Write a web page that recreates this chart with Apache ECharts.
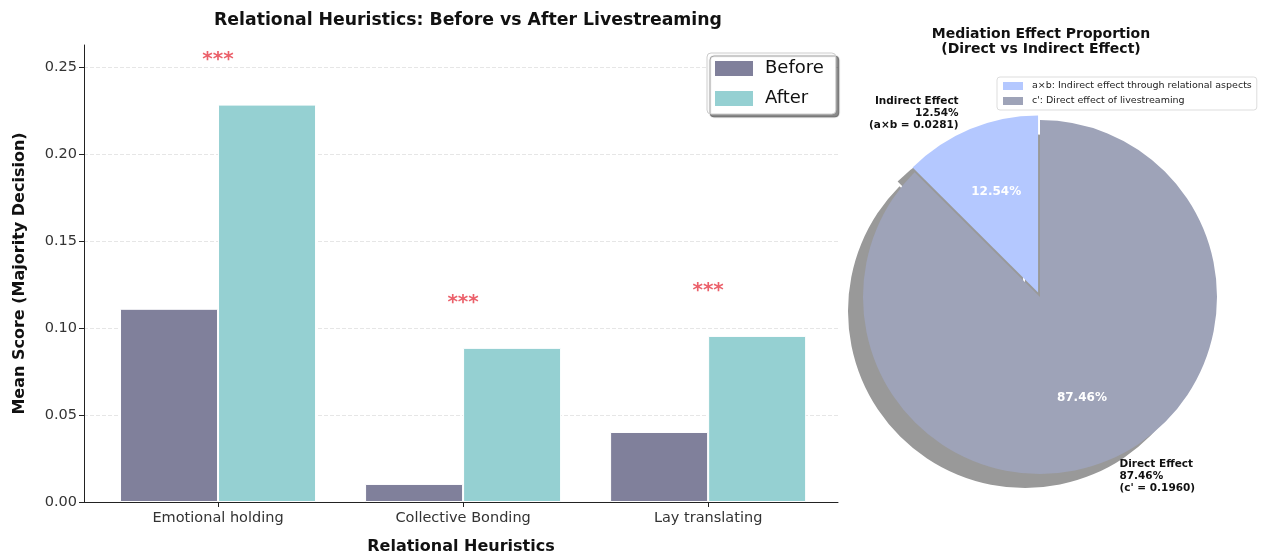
<!DOCTYPE html>
<html><head><meta charset="utf-8">
<script src="https://cdn.jsdelivr.net/npm/echarts@6/dist/echarts.min.js"></script>
<style>html,body{margin:0;padding:0;background:#fff}#c{width:1267px;height:556px}</style>
</head><body><div id="c"></div>
<script>
const categories = ['Emotional holding', 'Collective Bonding', 'Lay translating'];
const beforeValues = [0.1112, 0.0104, 0.0403];
const afterValues = [0.2287, 0.0887, 0.0956];
const significance = ['***', '***', '***'];
const yTicks = [0, 0.05, 0.10, 0.15, 0.20, 0.25];
const pieLegendNames = ['a×b: Indirect effect through relational aspects', "c': Direct effect of livestreaming"];
const pieShortNames = ['Indirect Effect', 'Direct Effect'];
const pieCoefNames = ['a×b', "c'"];
const pieEffects = [0.0281, 0.1960];

const FONT = 'DejaVu Sans';
const GL = 84, GR = 838, GT = 45, GB = 502;
const X_MIN = -0.547, X_MAX = 2.53;
const barW = 0.4 * (GR - GL) / (X_MAX - X_MIN);
const PIE_C = [1040, 297], PIE_R = 177;
const colBefore = '#80809b', colAfter = '#95d0d2';
const pieColors = ['#b4c8ff', '#9ea3b8'];

const chart = echarts.init(document.getElementById('c'), null, {renderer: 'canvas'});

const pieData = (prefix, colors) => pieEffects.map((v, i) => ({
  name: prefix ? prefix + i : pieLegendNames[i],
  value: v,
  selected: i === 0,
  itemStyle: {color: colors[i]}
}));

const option = {
  animation: false,
  backgroundColor: '#fff',
  title: [
    {text: 'Relational Heuristics: Before vs After Livestreaming', left: 463, top: 7, textAlign: 'center',
     textStyle: {fontFamily: FONT, fontSize: 17.3, fontWeight: 'bold', color: '#111'}},
    {text: 'Mediation Effect Proportion\n(Direct vs Indirect Effect)', left: 1036, top: 22, textAlign: 'center',
     textStyle: {fontFamily: FONT, fontSize: 14, fontWeight: 'bold', color: '#111', lineHeight: 15}}
  ],
  legend: [
    {data: ['Before', 'After'], orient: 'vertical', left: 707, top: 53, itemWidth: 40, itemHeight: 17, itemGap: 11,
     icon: 'rect', padding: [6, 12, 6, 6],
     textStyle: {fontFamily: FONT, fontSize: 18, color: '#111', padding: [0, 0, 0, 6]},
     backgroundColor: '#fff', borderColor: '#ccc', borderWidth: 1, borderRadius: 4,
     shadowColor: 'rgba(0,0,0,0.45)', shadowOffsetX: 3, shadowOffsetY: 3, shadowBlur: 1},
    {data: pieLegendNames, orient: 'vertical', left: 997, top: 77, itemWidth: 20, itemHeight: 8, itemGap: 5,
     icon: 'rect', padding: [4, 5, 4, 6],
     textStyle: {fontFamily: FONT, fontSize: 9.5, color: '#222', padding: [0, 0, 0, 4]},
     backgroundColor: '#fff', borderColor: '#ddd', borderWidth: 1, borderRadius: 3}
  ],
  grid: {left: GL, right: 1267 - GR, top: GT, bottom: 556 - GB, containLabel: false, outerBoundsMode: 'none'},
  xAxis: {
    type: 'value', min: X_MIN, max: X_MAX,
    name: 'Relational Heuristics', nameLocation: 'middle', nameGap: 37,
    nameTextStyle: {fontFamily: FONT, fontSize: 16, fontWeight: 'bold', color: '#111'},
    axisLine: {show: true, onZero: false, lineStyle: {color: '#222', width: 1}},
    axisTick: {show: true, length: 5, lineStyle: {color: '#222'}, customValues: [0, 1, 2]},
    axisLabel: {customValues: [0, 1, 2], formatter: v => categories[Math.round(v)] || '',
      fontFamily: FONT, fontSize: 14.5, color: '#333', margin: 9},
    splitLine: {show: false}
  },
  yAxis: {
    type: 'value', min: 0, max: 0.263,
    name: 'Mean Score (Majority Decision)', nameLocation: 'middle', nameGap: 56,
    nameTextStyle: {fontFamily: FONT, fontSize: 16, fontWeight: 'bold', color: '#111'},
    axisLine: {show: true, onZero: false, lineStyle: {color: '#222', width: 1}},
    axisTick: {show: true, length: 5, lineStyle: {color: '#222'}, customValues: yTicks},
    axisLabel: {customValues: yTicks, formatter: v => v.toFixed(2),
      fontFamily: FONT, fontSize: 14.5, color: '#333', margin: 7},
    splitLine: {show: true, lineStyle: {color: '#e6e6e6', type: 'dashed', width: 1}}
  },
  series: [
    {type: 'bar', name: 'Before', barWidth: barW, barGap: '-100%', itemStyle: {color: colBefore, borderColor: '#fff', borderWidth: 1},
     data: beforeValues.map((v, i) => [i - 0.2, v])},
    {type: 'bar', name: 'After', barWidth: barW, barGap: '-100%', itemStyle: {color: colAfter, borderColor: '#fff', borderWidth: 1},
     data: afterValues.map((v, i) => [i + 0.2, v])},
    {type: 'scatter', name: 'sig', symbolSize: 0, silent: true,
     data: categories.map((c, i) => [i, Math.max(beforeValues[i], afterValues[i]) + 0.02]),
     label: {show: true, position: 'top', distance: 0, formatter: p => significance[p.dataIndex],
       fontFamily: FONT, fontSize: 20, fontWeight: 'bold', color: '#e63946'}},
    {type: 'pie', name: 'shadow', z: 1, silent: true, center: [PIE_C[0] - 15, PIE_C[1] + 14], radius: PIE_R,
     startAngle: 90, clockwise: false, selectedMode: 'single', selectedOffset: 5,
     label: {show: false}, labelLine: {show: false}, emphasis: {disabled: true},
     itemStyle: {borderWidth: 0},
     select: {itemStyle: {color: '#999'}},
     data: pieData('s', ['#999', '#999'])},
    {type: 'pie', name: 'main', z: 3, center: PIE_C, radius: PIE_R,
     startAngle: 90, clockwise: false, selectedMode: 'single', selectedOffset: 5,
     emphasis: {disabled: true}, select: {itemStyle: {color: pieColors[0]}},
     itemStyle: {borderWidth: 0},
     label: {show: true, position: 'outside', fontFamily: FONT, fontSize: 10.5, fontWeight: 'bold', color: '#111', lineHeight: 12,
       formatter: p => pieShortNames[p.dataIndex] + '\n' + p.percent.toFixed(2) + '%\n(' + pieCoefNames[p.dataIndex] + ' = ' + p.value.toFixed(4) + ')'},
     labelLine: {show: false, length: 17, length2: 0},
     data: pieData(null, pieColors)},
    {type: 'pie', name: 'inner', z: 4, silent: true, center: PIE_C, radius: PIE_R * 1.2,
     startAngle: 90, clockwise: false, selectedMode: 'single', selectedOffset: 5,
     emphasis: {disabled: true}, select: {itemStyle: {color: 'rgba(0,0,0,0)'}},
     itemStyle: {borderWidth: 0},
     label: {show: true, position: 'inside', formatter: p => p.percent.toFixed(2) + '%',
       fontFamily: FONT, fontSize: 12, fontWeight: 'bold', color: '#fff'},
     labelLine: {show: false},
     data: pieData('o', ['rgba(0,0,0,0)', 'rgba(0,0,0,0)'])}
  ]
};
chart.setOption(option);
</script>
</body></html>
